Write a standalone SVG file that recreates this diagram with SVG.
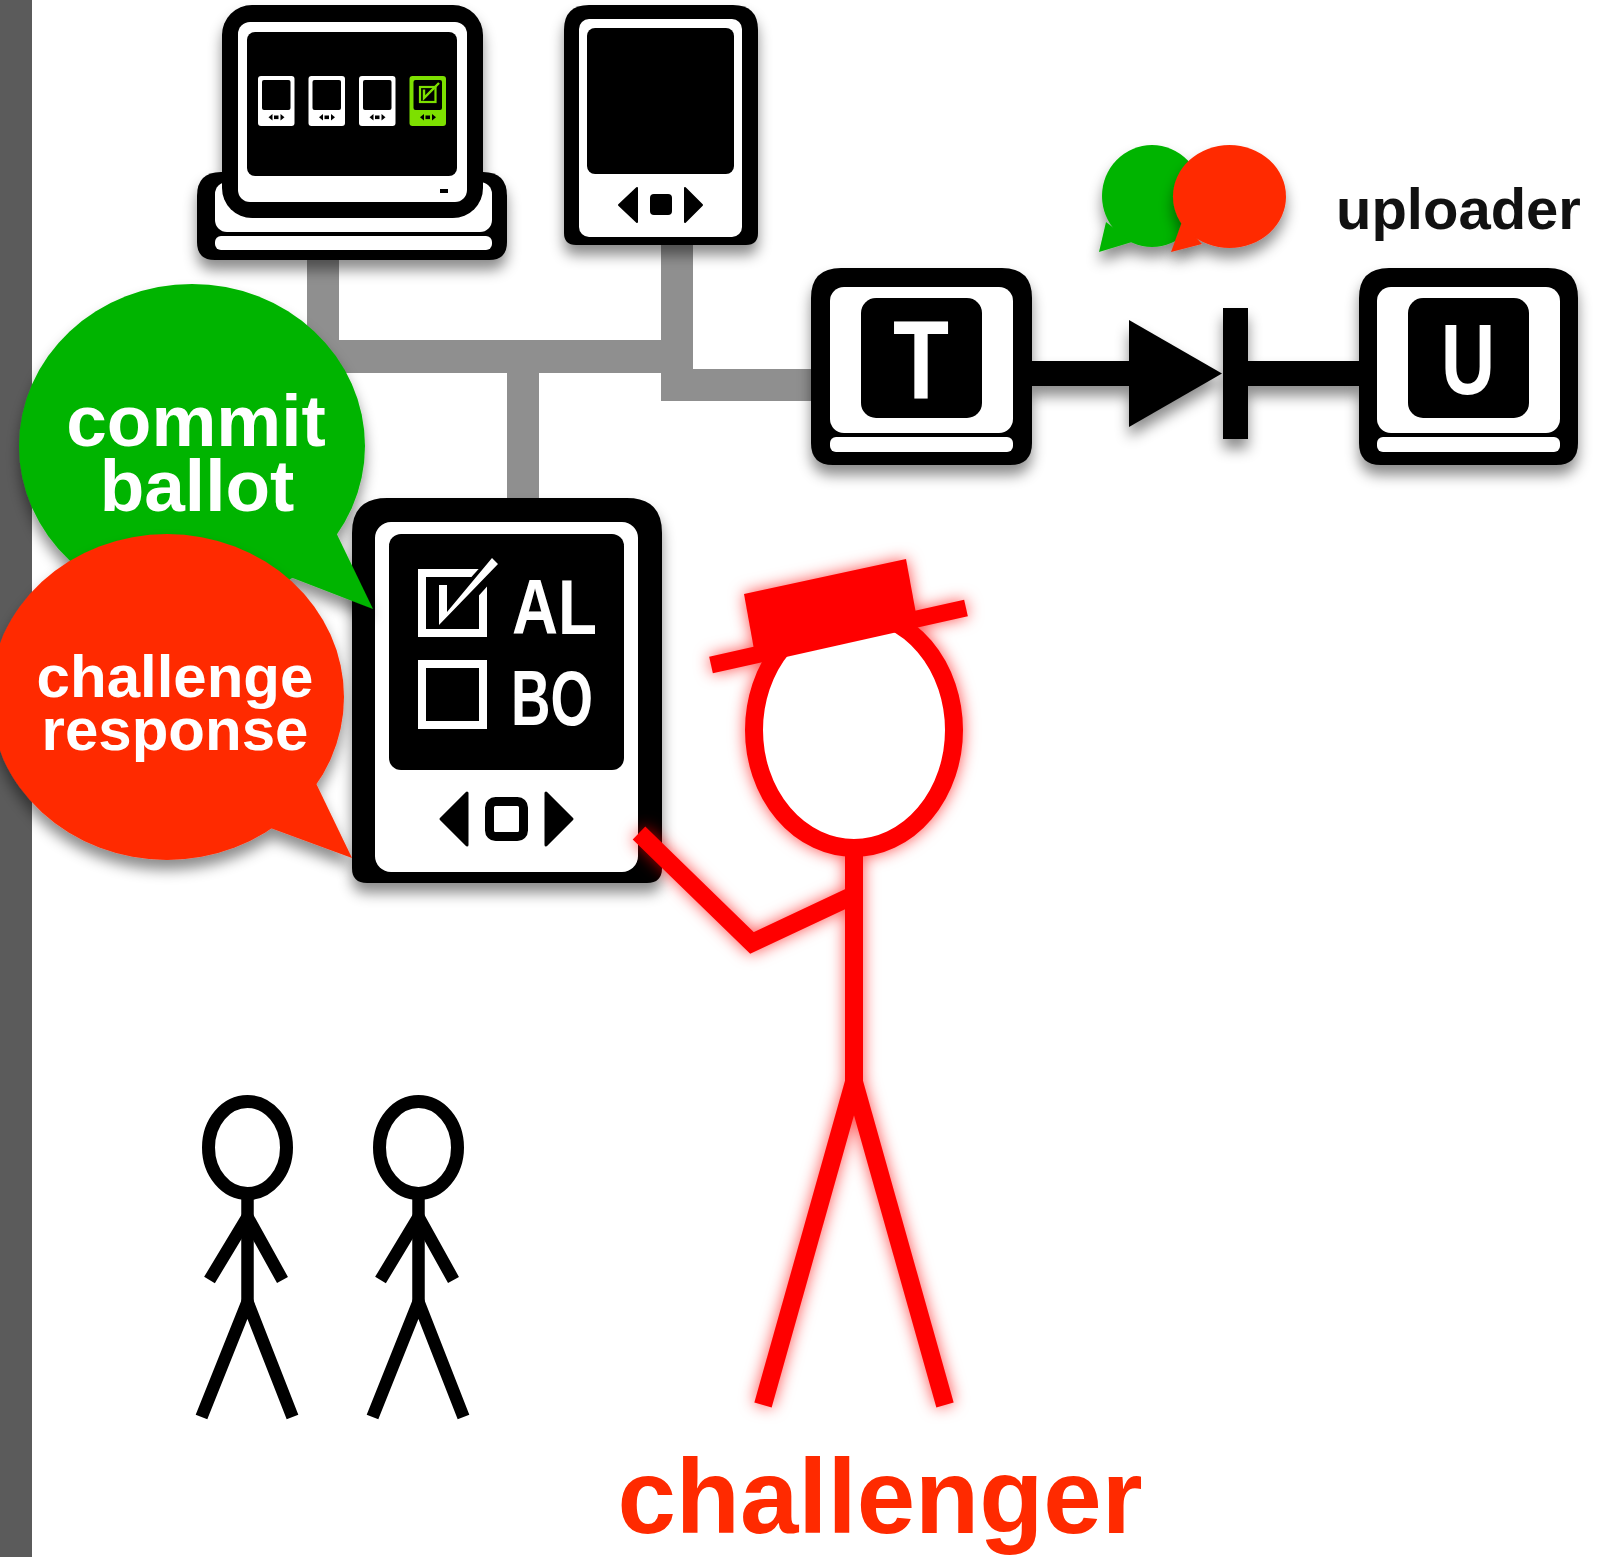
<svg xmlns="http://www.w3.org/2000/svg" xmlns:xlink="http://www.w3.org/1999/xlink" width="1599" height="1557" viewBox="0 0 1599 1557">
  <style>
    .lbl { font-family: "Liberation Sans", Arial, Helvetica, sans-serif; font-weight: bold; }
    .grey { fill: #8f8f8f; }
    .blk { fill: #000; }
    .wht { fill: #fff; }
    .red-line { stroke: #ff0000; stroke-width: 18; fill: none; stroke-linecap: butt; stroke-linejoin: miter; }
    .ink-line { stroke: #000; stroke-width: 12.5; fill: none; stroke-linecap: butt; stroke-linejoin: miter; }
  </style>
  <defs>
    <filter id="shadow" x="-20%" y="-20%" width="140%" height="150%">
      <feGaussianBlur in="SourceAlpha" stdDeviation="7"/>
      <feOffset dy="10" result="b"/>
      <feFlood flood-color="#000" flood-opacity="0.45"/>
      <feComposite in2="b" operator="in"/>
      <feMerge><feMergeNode/><feMergeNode in="SourceGraphic"/></feMerge>
    </filter>
    <filter id="glow" x="-30%" y="-30%" width="160%" height="160%">
      <feGaussianBlur in="SourceAlpha" stdDeviation="8" result="b"/>
      <feFlood flood-color="#ff0000" flood-opacity="0.7"/>
      <feComposite in2="b" operator="in" result="g"/>
      <feMerge><feMergeNode in="g"/><feMergeNode in="SourceGraphic"/></feMerge>
    </filter>
    <!-- small ballot device shown on the laptop screen; body colour comes from the use element -->
    <g id="mini">
      <rect width="36.5" height="50" rx="3"/>
      <rect x="4" y="4" width="28.5" height="30" rx="2" fill="#000"/>
      <path d="M10.5,41.3 L14.5,38 V44.6 Z" fill="#000"/>
      <rect x="16" y="39.5" width="4.5" height="3.6" fill="#000"/>
      <path d="M26.5,41.3 L22.5,38 V44.6 Z" fill="#000"/>
    </g>
    <!-- stick figure bystander -->
    <g id="person">
      <ellipse cx="0" cy="1147.5" rx="39" ry="46" fill="#fff" stroke="#000" stroke-width="13"/>
      <line x1="0" y1="1193" x2="0" y2="1302" class="ink-line"/>
      <polyline points="-38,1280 0,1217 35,1280" class="ink-line"/>
      <polyline points="-46,1417 0,1302 45,1417" class="ink-line"/>
    </g>
  </defs>

  <rect width="1599" height="1557" fill="#fff"/>
  <!-- left margin bar -->
  <rect x="0" y="0" width="32" height="1557" fill="#5b5b5b"/>

  <g id="connectors">
    <rect class="grey" x="307" y="250" width="32" height="123"/>
    <rect class="grey" x="307" y="340" width="370" height="33"/>
    <rect class="grey" x="661" y="238" width="32" height="163"/>
    <rect class="grey" x="661" y="369" width="155" height="32"/>
    <rect class="grey" x="507" y="370" width="32" height="132"/>
    <g filter="url(#shadow)">
      <rect class="blk" x="1030" y="361" width="101" height="25"/>
      <path class="blk" d="M1129,320 L1222,373.5 L1129,427 Z"/>
      <rect class="blk" x="1223" y="308" width="25" height="131"/>
      <rect class="blk" x="1246" y="361" width="115" height="25"/>
    </g>
  </g>

  <g id="laptop" filter="url(#shadow)">
    <path class="blk" d="M197,242 V196 Q197,172 221,172 H483 Q507,172 507,196 V242 Q507,260 489,260 H215 Q197,260 197,242 Z"/>
    <rect class="wht" x="215" y="182" width="277" height="50" rx="12"/>
    <rect class="wht" x="215" y="236" width="277" height="14" rx="6"/>
    <rect class="blk" x="222" y="5" width="261" height="213" rx="30"/>
    <rect class="wht" x="238" y="22" width="229" height="180" rx="12"/>
    <rect class="blk" x="247" y="32" width="210" height="144" rx="8"/>
    <rect class="blk" x="440" y="189" width="8" height="4"/>
    <use xlink:href="#mini" x="258" y="76" fill="#fff"/>
    <use xlink:href="#mini" x="308.5" y="76" fill="#fff"/>
    <use xlink:href="#mini" x="359" y="76" fill="#fff"/>
    <use xlink:href="#mini" x="409.5" y="76" fill="#7de000"/>
    <rect x="420" y="87" width="15.5" height="15" fill="none" stroke="#7de000" stroke-width="2.2"/>
    <polyline points="424,89.5 424,98 439,83" fill="none" stroke="#7de000" stroke-width="2.4"/>
  </g>

  <g id="tablet" filter="url(#shadow)">
    <path class="blk" d="M564,233 V30 Q564,5 589,5 H733 Q758,5 758,30 V233 Q758,245 746,245 H576 Q564,245 564,233 Z"/>
    <rect class="wht" x="579" y="19" width="163" height="218" rx="10"/>
    <rect class="blk" x="587" y="28" width="147" height="146" rx="8"/>
    <path class="blk" d="M619,205 L637,188 V222 Z" stroke="#000" stroke-width="2" stroke-linejoin="round"/>
    <rect class="blk" x="650" y="194" width="22" height="21" rx="4"/>
    <path class="blk" d="M702,205 L685,188 V222 Z" stroke="#000" stroke-width="2" stroke-linejoin="round"/>
  </g>

  <g id="node-T" filter="url(#shadow)">
    <path class="blk" d="M811,443 V298 Q811,268 841,268 H1002 Q1032,268 1032,298 V443 Q1032,465 1010,465 H833 Q811,465 811,443 Z"/>
    <rect class="wht" x="830" y="287" width="183" height="146" rx="14"/>
    <rect class="wht" x="830" y="437" width="183" height="15" rx="6"/>
    <rect class="blk" x="861" y="298" width="121" height="120" rx="15"/>
    <text class="lbl" x="893" y="398" font-size="111" fill="#fff" textLength="56" lengthAdjust="spacingAndGlyphs">T</text>
  </g>

  <g id="node-U" filter="url(#shadow)">
    <path class="blk" d="M1359,443 V298 Q1359,268 1389,268 H1548 Q1578,268 1578,298 V443 Q1578,465 1556,465 H1381 Q1359,465 1359,443 Z"/>
    <rect class="wht" x="1377" y="287" width="183" height="146" rx="14"/>
    <rect class="wht" x="1377" y="437" width="183" height="15" rx="6"/>
    <rect class="blk" x="1408" y="298" width="121" height="120" rx="15"/>
    <text class="lbl" x="1441" y="394" font-size="100" fill="#fff" textLength="54" lengthAdjust="spacingAndGlyphs">U</text>
  </g>

  <g id="uploader">
    <g filter="url(#shadow)" fill="#00b400">
      <ellipse cx="1152" cy="196" rx="50" ry="51"/>
      <path d="M1106,222 L1099,252 L1132,242 Z"/>
    </g>
    <g filter="url(#shadow)" fill="#ff2a00">
      <ellipse cx="1229.5" cy="196.5" rx="56.5" ry="51.5"/>
      <path d="M1182,222 L1171,252 L1202,244 Z"/>
    </g>
    <text class="lbl" x="1336" y="229" font-size="58" fill="#111">uploader</text>
  </g>

  <g id="ballot-device" filter="url(#shadow)">
    <path class="blk" d="M352,868 V533 Q352,498 387,498 H627 Q662,498 662,533 V868 Q662,883 647,883 H367 Q352,883 352,868 Z"/>
    <rect class="wht" x="375" y="522" width="263" height="350" rx="16"/>
    <rect class="blk" x="389" y="534" width="235" height="236" rx="12"/>
    <rect x="422" y="573" width="61" height="60" fill="none" stroke="#fff" stroke-width="8"/>
    <line x1="470" y1="592" x2="497" y2="562" stroke="#000" stroke-width="18"/>
    <path class="wht" d="M439,585 H447 V612 L492,558 L498,564 L439,625 Z"/>
    <rect x="422" y="664" width="61" height="61" fill="none" stroke="#fff" stroke-width="8"/>
    <text class="lbl" x="512" y="634" font-size="78" fill="#fff" textLength="85" lengthAdjust="spacingAndGlyphs">AL</text>
    <text class="lbl" x="511" y="725" font-size="77" fill="#fff" textLength="82" lengthAdjust="spacingAndGlyphs">BO</text>
    <path class="blk" d="M441,819 L467,793 V845 Z" stroke="#000" stroke-width="3" stroke-linejoin="round"/>
    <rect x="489.5" y="801.5" width="34" height="35" rx="6" fill="#fff" stroke="#000" stroke-width="9"/>
    <path class="blk" d="M572,819 L546,793 V845 Z" stroke="#000" stroke-width="3" stroke-linejoin="round"/>
  </g>

  <g id="commit-bubble" filter="url(#shadow)">
    <ellipse cx="192" cy="446" rx="173" ry="162" fill="#00b400"/>
    <path d="M330,520 L373,609 L285,575 Z" fill="#00b400"/>
    <text class="lbl" x="196" y="446" font-size="73" fill="#fff" text-anchor="middle">commit</text>
    <text class="lbl" x="197" y="511" font-size="73" fill="#fff" text-anchor="middle">ballot</text>
  </g>

  <g id="challenge-bubble" filter="url(#shadow)">
    <ellipse cx="167" cy="697" rx="177" ry="163" fill="#ff2a00"/>
    <path d="M312,775 L352,858 L265,826 Z" fill="#ff2a00"/>
    <text class="lbl" x="175" y="697" font-size="60" fill="#fff" text-anchor="middle">challenge</text>
    <text class="lbl" x="175" y="750" font-size="60" fill="#fff" text-anchor="middle">response</text>
  </g>

  <g id="challenger" filter="url(#glow)">
    <ellipse cx="854" cy="730" rx="100" ry="118" fill="#fff" stroke="#ff0000" stroke-width="18"/>
    <path d="M744,594 L906,559 L917,619 L755,655 Z" fill="#ff0000"/>
    <line x1="711" y1="665" x2="966" y2="608" stroke="#ff0000" stroke-width="17"/>
    <line x1="854" y1="855" x2="854" y2="1086" class="red-line"/>
    <polyline points="639,833 752,943 854,895" class="red-line"/>
    <line x1="854" y1="1082" x2="763" y2="1405" class="red-line"/>
    <line x1="854" y1="1082" x2="945" y2="1405" class="red-line"/>
  </g>
  <text class="lbl" x="880" y="1533" font-size="105" fill="#ff2a00" text-anchor="middle">challenger</text>

  <g id="voter-1">
    <use xlink:href="#person" x="247.5" y="0"/>
  </g>
  <g id="voter-2">
    <use xlink:href="#person" x="418.5" y="0"/>
  </g>
</svg>
